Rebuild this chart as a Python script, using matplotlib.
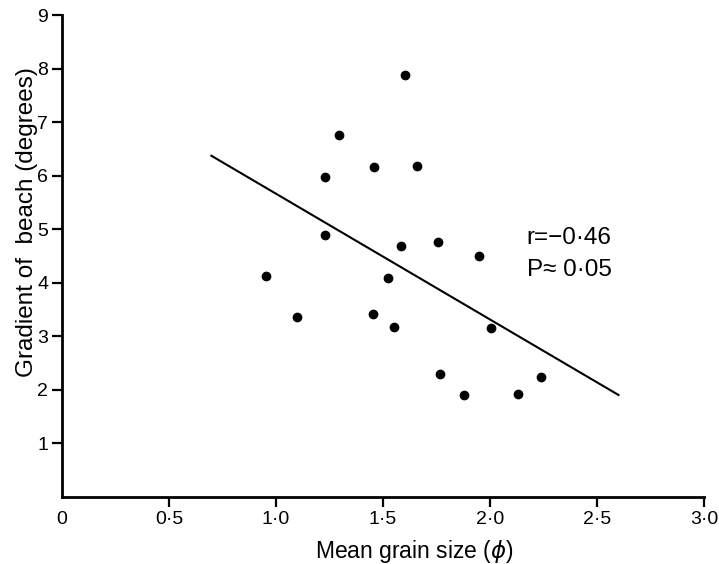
import numpy as np
import matplotlib.pyplot as plt

plt.rcParams['font.family'] = ['Liberation Sans', 'DejaVu Sans']

# Mean grain size (phi) and beach gradient (degrees)
grain_size = [0.955, 1.100, 1.230, 1.230, 1.294, 1.455, 1.459, 1.525, 1.550, 1.583,
              1.601, 1.658, 1.755, 1.765, 1.877, 1.948, 2.004, 2.131, 2.238]
gradient = [4.13, 3.36, 5.97, 4.89, 6.76, 3.42, 6.16, 4.09, 3.17, 4.69,
            7.88, 6.18, 4.75, 2.29, 1.90, 4.49, 3.15, 1.91, 2.23]

# regression line end points
line_x = [0.698, 2.60]
line_y = [6.37, 1.90]

x_ticks = [0, 0.5, 1.0, 1.5, 2.0, 2.5, 3.0]
x_labels = ['0', '0\u00b75', '1\u00b70', '1\u00b75', '2\u00b70', '2\u00b75', '3\u00b70']
y_ticks = [1, 2, 3, 4, 5, 6, 7, 8, 9]

fig = plt.figure(figsize=(7.19, 5.64), dpi=100)
ax = fig.add_axes([0.0862, 0.1194, 0.8931, 0.8540])

ax.plot(grain_size, gradient, 'o', color='black', markersize=6, zorder=3)
ax.plot(line_x, line_y, color='black', linewidth=1.5)

ax.set_xlim(0, 3.0)
ax.set_ylim(0, 9)

for side in ['top', 'right']:
    ax.spines[side].set_visible(False)
for side in ['left', 'bottom']:
    ax.spines[side].set_linewidth(2.0)

ax.set_xticks(x_ticks)
ax.set_xticklabels(x_labels)
ax.set_yticks(y_ticks)
ax.tick_params(axis='both', direction='out', length=7, width=1.6,
               labelsize=14, pad=3)
ax.xaxis.get_major_ticks()[0].tick1line.set_visible(False)

ax.set_xlabel('Mean grain size ($\\phi$)', fontsize=16.5)
ax.xaxis.set_label_coords(0.548, -0.085)
ax.set_ylabel('Gradient of  beach (degrees)', fontsize=17.5)
ax.yaxis.set_label_coords(-0.038, 0.57)

ax.text(2.171, 4.72, 'r=\u22120\u00b746', fontsize=17.5, va='baseline')
ax.text(2.171, 4.12, 'P\u2248 0\u00b705', fontsize=17.5, va='baseline')

fig.savefig('out.png', dpi=100)
